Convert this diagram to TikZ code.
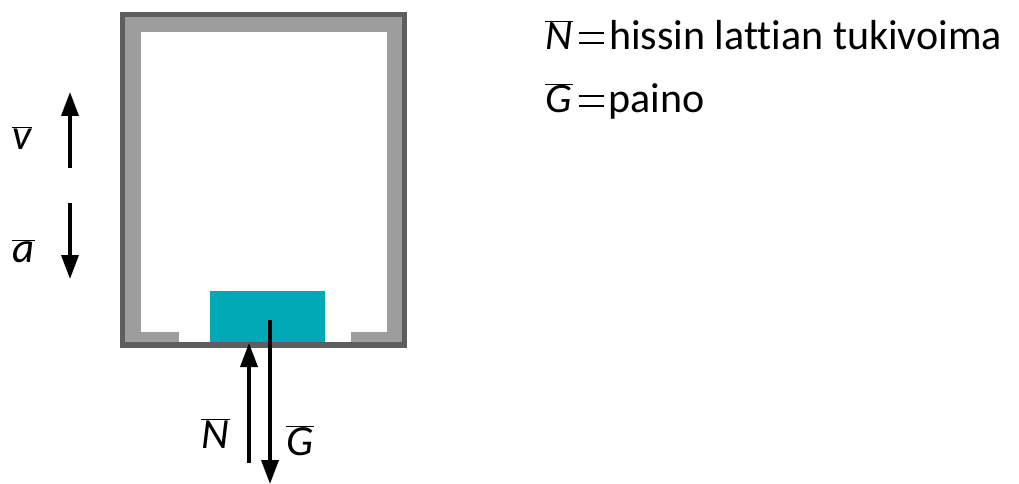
\documentclass[tikz,border=0pt]{standalone}
\usepackage{fontspec}
\setmainfont[Ligatures=NoCommon]{Carlito}
\usetikzlibrary{arrows.meta}
\definecolor{wallDark}{HTML}{5E5E5E}
\definecolor{wallGray}{HTML}{9D9D9D}
\definecolor{boxTeal}{HTML}{00A9B4}
\newcommand\vecbar[1]{\ensuremath{\overline{\mbox{\itshape #1\kern1pt}}}}
\newcommand\eqsign{\kern6pt\rlap{\raisebox{6pt}{\rule{25pt}{2.4pt}}}\raisebox{16pt}{\rule{25pt}{2.4pt}}\kern5pt}
\begin{document}
\begin{tikzpicture}[x=1pt,y=-1pt,
  txt/.style={inner sep=0pt,anchor=base west,font=\fontsize{43}{52}\selectfont},
  force/.style={line width=3.6pt,-{Triangle[length=24pt,width=17pt]}}]
\useasboundingbox (0,0) rectangle (1019,484);
% elevator walls
\fill[wallDark] (120,12) rectangle (407,348);
\fill[wallGray] (125,17) rectangle (402,342);
\fill[white] (141,32) rectangle (387,332);
\fill[white] (179,331) rectangle (351,342);
% load
\node[fill=boxTeal,inner sep=0pt,minimum width=115pt,minimum height=51pt,anchor=south west] (load) at (210,342) {};
% forces
\coordinate (gstart) at (270,320);
\coordinate (gend) at (270,484);
\coordinate (nstart) at (249,463);
\coordinate (nend) at (249,343);
\draw[force] (gstart) -- (gend);
\draw[force] (nstart) -- (nend);
% motion
\coordinate (vs) at (70,168);
\coordinate (ve) at (70,92);
\coordinate (as) at (70,203);
\coordinate (ae) at (70,279);
\draw[force] (vs) -- (ve);
\draw[force] (as) -- (ae);
% labels
\node[txt] (vlab) at (12,149) {\vecbar{v}};
\node[txt] (alab) at (12,262) {\vecbar{a}};
\node[txt] (nlab) at (201,448) {\vecbar{N}};
\node[txt] (glab) at (286,455) {\vecbar{G}};
\node[txt,font=\fontsize{42}{50}\selectfont] (line1) at (545,50) {\vecbar{N}\eqsign hissin lattian tukivoima};
\node[txt,font=\fontsize{42}{50}\selectfont] (line2) at (545,113) {\vecbar{G}\eqsign paino};
\end{tikzpicture}
\end{document}
